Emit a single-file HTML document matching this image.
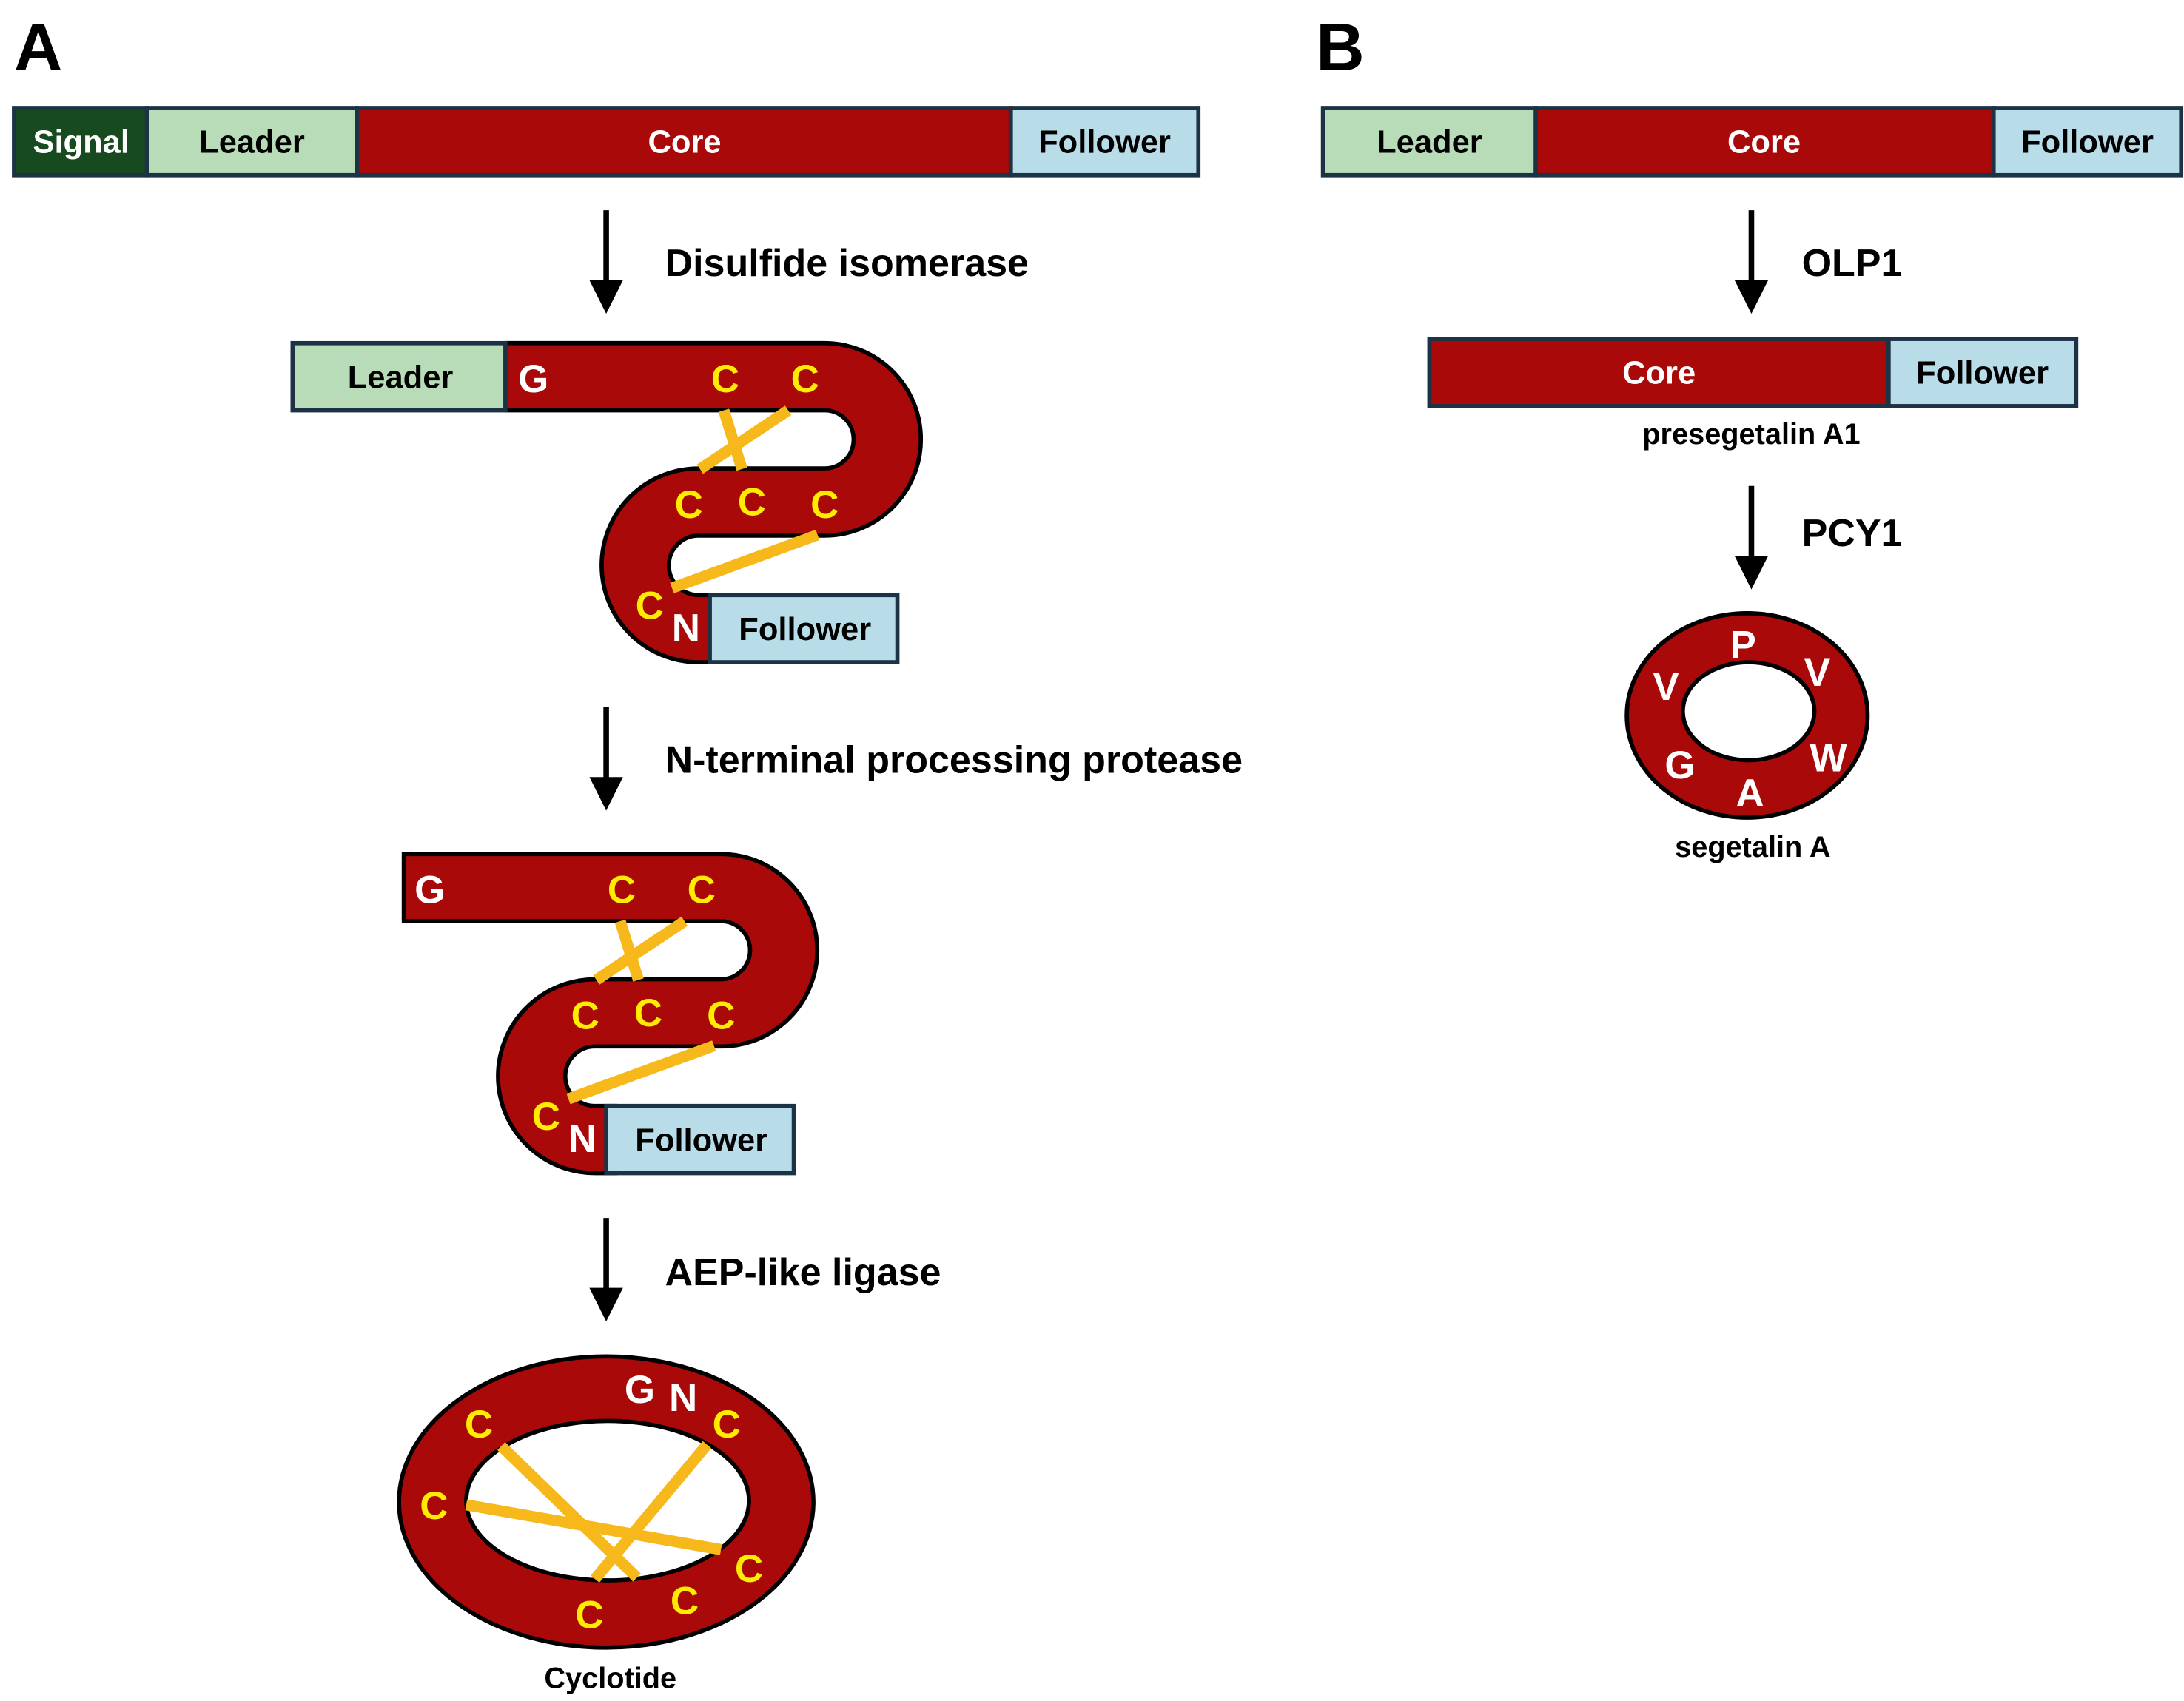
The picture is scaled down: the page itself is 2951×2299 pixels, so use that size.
<!DOCTYPE html>
<html><head><meta charset="utf-8"><style>html,body{margin:0;padding:0;background:#fff}svg{display:block}</style></head>
<body>
<svg width="2951" height="2299" viewBox="0 0 1560 1215" xmlns="http://www.w3.org/2000/svg" font-family="Liberation Sans, Arial, sans-serif" font-weight="bold">
<defs>
<marker id="ah" markerWidth="6" markerHeight="6" refX="3" refY="3" orient="auto" markerUnits="strokeWidth">
<path d="M0,0 L6,3 L0,6 z" fill="#000"/></marker>
</defs>
<rect width="1560" height="1215" fill="#fff"/>
<g font-size="48" fill="#000"><text x="10" y="50">A</text><text x="940" y="50">B</text></g>

<g stroke="#1c3345" stroke-width="3">
<rect x="10" y="77" width="95" height="48" fill="#174a1e"/>
<rect x="105" y="77" width="150" height="48" fill="#b8dbb8"/>
<rect x="255" y="77" width="467" height="48" fill="#a90909"/>
<rect x="722" y="77" width="134" height="48" fill="#b9dde8"/>
</g>
<g font-size="23" text-anchor="middle">
<text x="58" y="109" fill="#fff">Signal</text>
<text x="180" y="109">Leader</text>
<text x="489" y="109" fill="#fff">Core</text>
<text x="789" y="109">Follower</text>
</g>

<g stroke="#000" stroke-width="4">
<line x1="433" y1="150" x2="433" y2="212" marker-end="url(#ah)"/>
<line x1="433" y1="505" x2="433" y2="567" marker-end="url(#ah)"/>
<line x1="433" y1="870" x2="433" y2="932" marker-end="url(#ah)"/>
<line x1="1251" y1="150" x2="1251" y2="212" marker-end="url(#ah)"/>
<line x1="1251" y1="347" x2="1251" y2="409" marker-end="url(#ah)"/>
</g>
<g font-size="27.5">
<text x="475" y="197">Disulfide isomerase</text>
<text x="475" y="552">N-terminal processing protease</text>
<text x="475" y="918">AEP-like ligase</text>
<text x="1287" y="197">OLP1</text>
<text x="1287" y="390">PCY1</text>
</g>

<g id="fold1">
<path d="M361,269 H589 A44.75,44.75 0 0 1 589,358.5 H499 A45.25,45.25 0 0 0 499,449 H515" fill="none" stroke="#000" stroke-width="51"/>
<path d="M361,269 H589 A44.75,44.75 0 0 1 589,358.5 H499 A45.25,45.25 0 0 0 499,449 H515" fill="none" stroke="#a90909" stroke-width="45"/>
<g stroke="#f7b81c" stroke-width="8">
<line x1="517" y1="293" x2="530" y2="335"/>
<line x1="563" y1="293" x2="500" y2="335"/>
<line x1="584" y1="382" x2="480" y2="420"/>
</g>
<g font-size="28" text-anchor="middle" fill="#ffec00">
<text x="518" y="280">C</text><text x="575" y="280">C</text>
<text x="492" y="370">C</text><text x="537" y="368">C</text><text x="589" y="370">C</text>
<text x="464" y="442">C</text>
</g>
<g font-size="28" text-anchor="middle" fill="#fff">
<text x="381" y="280">G</text><text x="490" y="458">N</text>
</g>
<rect x="507" y="425" width="134" height="48" fill="#b9dde8" stroke="#1c3345" stroke-width="3"/>
<text x="575" y="457" font-size="23" text-anchor="middle">Follower</text>
</g>
<rect x="209" y="245" width="152" height="48" fill="#b8dbb8" stroke="#1c3345" stroke-width="3"/>
<text x="286" y="277" font-size="23" text-anchor="middle">Leader</text>

<use href="#fold1" transform="translate(-74,365)"/>
<line x1="288.5" y1="609" x2="288.5" y2="658" stroke="#000" stroke-width="3"/>

<ellipse cx="433" cy="1073" rx="148" ry="104" fill="#a90909" stroke="#000" stroke-width="3"/>
<ellipse cx="434" cy="1072" rx="101" ry="57" fill="#fff" stroke="#000" stroke-width="3"/>
<g stroke="#f7b81c" stroke-width="8">
<line x1="358" y1="1033" x2="455" y2="1127"/>
<line x1="505" y1="1032" x2="425" y2="1128"/>
<line x1="333" y1="1075" x2="515" y2="1107"/>
</g>
<g font-size="28" text-anchor="middle" fill="#ffec00">
<text x="342" y="1027">C</text><text x="519" y="1027">C</text><text x="310" y="1085">C</text>
<text x="535" y="1130">C</text><text x="489" y="1153">C</text><text x="421" y="1163">C</text>
</g>
<g font-size="28" text-anchor="middle" fill="#fff">
<text x="457" y="1002">G</text><text x="488" y="1008">N</text>
</g>
<text x="436" y="1206" font-size="21" text-anchor="middle">Cyclotide</text>

<g stroke="#1c3345" stroke-width="3">
<rect x="945" y="77" width="152" height="48" fill="#b8dbb8"/>
<rect x="1097" y="77" width="327" height="48" fill="#a90909"/>
<rect x="1424" y="77" width="134" height="48" fill="#b9dde8"/>
<rect x="1021" y="242" width="328" height="48" fill="#a90909"/>
<rect x="1349" y="242" width="134" height="48" fill="#b9dde8"/>
</g>
<g font-size="23" text-anchor="middle">
<text x="1021" y="109">Leader</text>
<text x="1260" y="109" fill="#fff">Core</text>
<text x="1491" y="109">Follower</text>
<text x="1185" y="274" fill="#fff">Core</text>
<text x="1416" y="274">Follower</text>
</g>
<text x="1251" y="317" font-size="21" text-anchor="middle">presegetalin A1</text>
<ellipse cx="1248" cy="511" rx="86" ry="73" fill="#a90909" stroke="#000" stroke-width="3"/>
<ellipse cx="1249" cy="508" rx="47" ry="35" fill="#fff" stroke="#000" stroke-width="3"/>
<g font-size="28" text-anchor="middle" fill="#fff">
<text x="1245" y="470">P</text><text x="1298" y="490">V</text><text x="1306" y="551">W</text>
<text x="1250" y="576">A</text><text x="1200" y="556">G</text><text x="1190" y="500">V</text>
</g>
<text x="1252" y="612" font-size="21" text-anchor="middle">segetalin A</text>
</svg>
</body></html>
